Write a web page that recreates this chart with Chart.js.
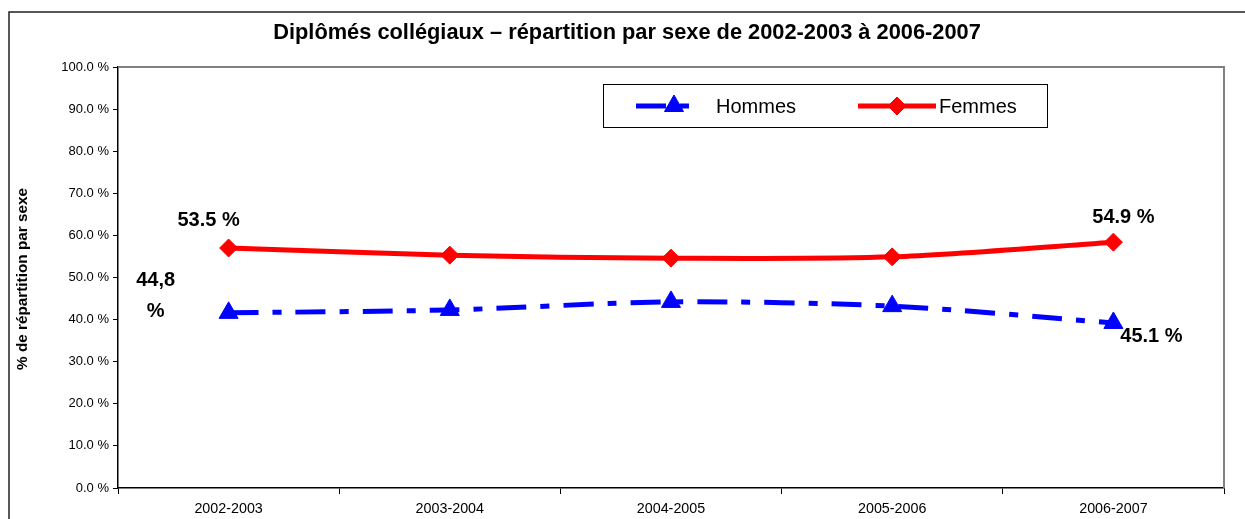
<!DOCTYPE html>
<html>
<head>
<meta charset="utf-8">
<script src="https://cdn.jsdelivr.net/npm/chart.js@4.4.1/dist/chart.umd.min.js"></script>
<style>
  html, body { margin: 0; padding: 0; background: #fff; }
  #wrap { position: relative; width: 1245px; height: 519px; }
</style>
</head>
<body>
<div id="wrap"><canvas id="graphique"></canvas></div>
<script>
const TITRE = "Diplômés collégiaux – répartition par sexe de 2002-2003 à 2006-2007";
const TITRE_Y = "% de répartition par sexe";
const ANNEES = ["2002-2003", "2003-2004", "2004-2005", "2005-2006", "2006-2007"];
const HOMMES = [41.6, 42.3, 44.2, 43.2, 39.2];
const FEMMES = [57.0, 55.3, 54.6, 54.9, 58.4];
const TICKS_Y = [0, 10, 20, 30, 40, 50, 60, 70, 80, 90, 100];
// etiquettes ajoutees a la main dans le graphique d'origine
const ETIQUETTES = [
    { serie: 1, idx: 0, lignes: ["53.5 %"], dx: -20, dy: -28 },
    { serie: 0, idx: 0, lignes: ["44,8", "%"], dx: -73, dy: -32 },
    { serie: 1, idx: 4, lignes: ["54.9 %"], dx: 10, dy: -25 },
    { serie: 0, idx: 4, lignes: ["45.1 %"], dx: 38, dy: 14 }
];

const DASH_H = [30, 14, 9, 14];

const decor = {
    id: 'decor',
    afterDraw(chart) {
        const ctx = chart.ctx;
        const a = chart.chartArea;
        ctx.save();

        // cadre exterieur
        ctx.strokeStyle = '#222';
        ctx.lineWidth = 1.5;
        ctx.strokeRect(9, 12, 1260, 530);

        // bords gris haut / droite de la zone
        ctx.strokeStyle = '#808080';
        ctx.lineWidth = 2;
        ctx.beginPath();
        ctx.moveTo(a.left, a.top);
        ctx.lineTo(a.right, a.top);
        ctx.lineTo(a.right, a.bottom);
        ctx.stroke();

        // titre
        ctx.fillStyle = '#000';
        ctx.font = 'bold 21.8px "Liberation Sans", Arial, sans-serif';
        ctx.textAlign = 'center';
        ctx.textBaseline = 'middle';
        ctx.fillText(TITRE, 627, 33);

        // titre axe y
        ctx.save();
        ctx.translate(23, 279);
        ctx.rotate(-Math.PI / 2);
        ctx.font = 'bold 15.3px "Liberation Sans", Arial, sans-serif';
        ctx.fillText(TITRE_Y, 0, 0);
        ctx.restore();

        // etiquettes
        ctx.font = 'bold 20px "Liberation Sans", Arial, sans-serif';
        ETIQUETTES.forEach(e => {
            const pt = chart.getDatasetMeta(e.serie).data[e.idx];
            e.lignes.forEach((l, i) => {
                ctx.fillText(l, pt.x + e.dx, pt.y + e.dy + i * 31);
            });
        });

        // legende
        ctx.strokeStyle = '#000';
        ctx.lineWidth = 1;
        ctx.strokeRect(603.5, 84.5, 444, 43);
        const ly = 106;
        chart.data.datasets.forEach((ds, i) => {
            const x0 = i === 0 ? 636 : 858;
            const x1 = i === 0 ? 700 : 936;
            ctx.save();
            ctx.strokeStyle = ds.borderColor;
            ctx.lineWidth = ds.borderWidth;
            ctx.setLineDash(ds.borderDash || []);
            ctx.beginPath();
            ctx.moveTo(x0, ly);
            ctx.lineTo(x1, ly);
            ctx.stroke();
            ctx.restore();
            ctx.fillStyle = ds.backgroundColor;
            ctx.strokeStyle = ds.borderColor;
            Chart.helpers.drawPoint(ctx, {
                pointStyle: ds.pointStyle, radius: ds.pointRadius, borderWidth: 1
            }, i === 0 ? 674 : 897, ly);
            ctx.fillStyle = '#000';
            ctx.textAlign = 'left';
            ctx.font = '20px "Liberation Sans", Arial, sans-serif';
            ctx.fillText(ds.label, i === 0 ? 716 : 939, ly + 1);
        });
        ctx.restore();
    }
};

new Chart(document.getElementById('graphique'), {
    type: 'line',
    data: {
        labels: ANNEES,
        datasets: [
            {
                label: 'Hommes', data: HOMMES,
                borderColor: '#0000ff', backgroundColor: '#0000ff',
                borderWidth: 5, borderDash: DASH_H, borderCapStyle: 'butt',
                pointStyle: 'triangle', pointRadius: 11, pointHoverRadius: 11,
                pointBorderWidth: 1, tension: 0.3
            },
            {
                label: 'Femmes', data: FEMMES,
                borderColor: '#ff0000', backgroundColor: '#ff0000',
                borderWidth: 5, pointStyle: 'rectRot', pointRadius: 9, pointHoverRadius: 9,
                pointBorderWidth: 1, tension: 0.3
            }
        ]
    },
    options: {
        responsive: true,
        maintainAspectRatio: false,
        animation: false,
        layout: { padding: { top: 67, right: 21, left: 0, bottom: 0 } },
        plugins: { legend: { display: false }, tooltip: { enabled: false }, title: { display: false } },
        scales: {
            x: {
                offset: true,
                border: { color: '#000', width: 1.5 },
                grid: { drawOnChartArea: false, drawTicks: true, tickLength: 6, color: '#000', offset: true },
                ticks: { color: '#000', padding: 6, font: { size: 14.3, family: '"Liberation Sans", Arial' } },
                afterFit(s) { s.height = 31; }
            },
            y: {
                min: 0, max: 100,
                afterBuildTicks(s) { s.ticks = TICKS_Y.map(v => ({ value: v })); },
                border: { color: '#000', width: 1.5 },
                grid: { drawOnChartArea: false, drawTicks: true, tickLength: 5, color: '#000' },
                ticks: {
                    color: '#000', padding: 4,
                    font: { size: 13, family: '"Liberation Sans", Arial' },
                    callback: v => v.toFixed(1) + ' %'
                },
                afterFit(s) { s.width = 118; }
            }
        }
    },
    plugins: [decor]
});
</script>
</body>
</html>
